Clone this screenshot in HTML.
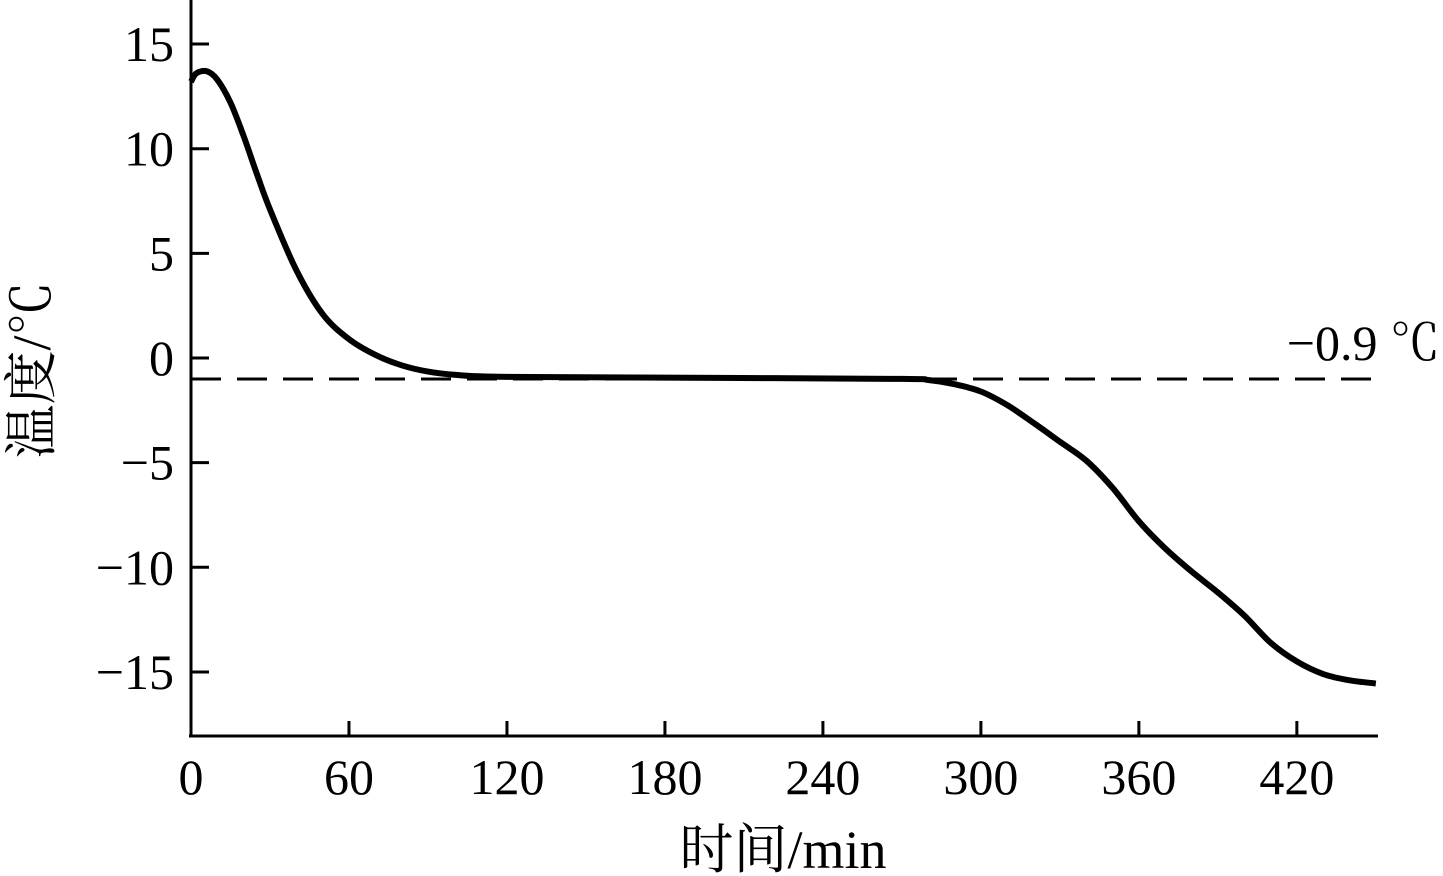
<!DOCTYPE html>
<html><head><meta charset="utf-8"><style>
html,body{margin:0;padding:0;background:#fff;}
svg{display:block;font-family:"Liberation Serif","Noto Serif CJK SC",serif;}
</style></head><body>
<svg id="s" width="1443" height="876" viewBox="0 0 1443 876">
<g stroke="#000" stroke-width="3" fill="none">
<line x1="191" y1="0" x2="191" y2="737"/>
<line x1="189" y1="736" x2="1378" y2="736"/>
<g id="ticks"></g>
</g>
<line x1="191" y1="379" x2="1378" y2="379" stroke="#000" stroke-width="3" stroke-dasharray="30,16"/>
<path id="c" fill="none" stroke="#000" stroke-width="6" stroke-linejoin="round"/>
<g font-size="50" fill="#000" id="lab"></g>
<text x="783" y="868" font-size="54" text-anchor="middle">时间/min</text>
<text transform="translate(50,370) rotate(-90)" font-size="54" text-anchor="middle">温度/℃</text>
<text x="1440" y="360" font-size="50" text-anchor="end">−0.9 ℃</text>
</svg>
<script>
var X=m=>191+m*2.633, Y=t=>358-t*20.93;
var tk=document.getElementById('ticks'),lab=document.getElementById('lab'),h='',l='';
for(var m=60;m<=420;m+=60){h+='<line x1="'+X(m)+'" y1="736" x2="'+X(m)+'" y2="721"/>';}
for(var m=0;m<=420;m+=60){l+='<text x="'+X(m)+'" y="794" text-anchor="middle">'+m+'</text>';}
for(var t=-15;t<=15;t+=5){h+='<line x1="191" y1="'+Y(t)+'" x2="209" y2="'+Y(t)+'"/>';l+='<text x="174" y="'+(Y(t)+17)+'" text-anchor="end">'+(t<0?'−'+(-t):t)+'</text>';}
tk.innerHTML=h;lab.innerHTML=l;
var p=[[0,13.2],[2,13.6],[6,13.7],[10,13.3],[15,12.2],[20,10.6],[25,8.8],[30,7.1],[40,4.2],[50,2.1],[60,0.9],[70,0.15],[80,-0.35],[90,-0.65],[100,-0.8],[120,-0.9],[200,-0.95],[270,-1.0],[280,-1.05],[290,-1.25],[300,-1.6],[310,-2.25],[320,-3.1],[330,-4.0],[340,-4.9],[350,-6.2],[360,-7.8],[370,-9.1],[380,-10.2],[390,-11.2],[400,-12.3],[410,-13.6],[420,-14.5],[430,-15.1],[440,-15.4],[450,-15.55]];
var pts=p.map(a=>[X(a[0]),Y(a[1])]);
var d='M'+pts[0][0]+','+pts[0][1];
for(var i=0;i<pts.length-1;i++){var p0=pts[Math.max(0,i-1)],p1=pts[i],p2=pts[i+1],p3=pts[Math.min(pts.length-1,i+2)];
d+=' C'+(p1[0]+(p2[0]-p0[0])/6)+','+(p1[1]+(p2[1]-p0[1])/6)+' '+(p2[0]-(p3[0]-p1[0])/6)+','+(p2[1]-(p3[1]-p1[1])/6)+' '+p2[0]+','+p2[1];}
document.getElementById('c').setAttribute('d',d);
</script>
</body></html>
